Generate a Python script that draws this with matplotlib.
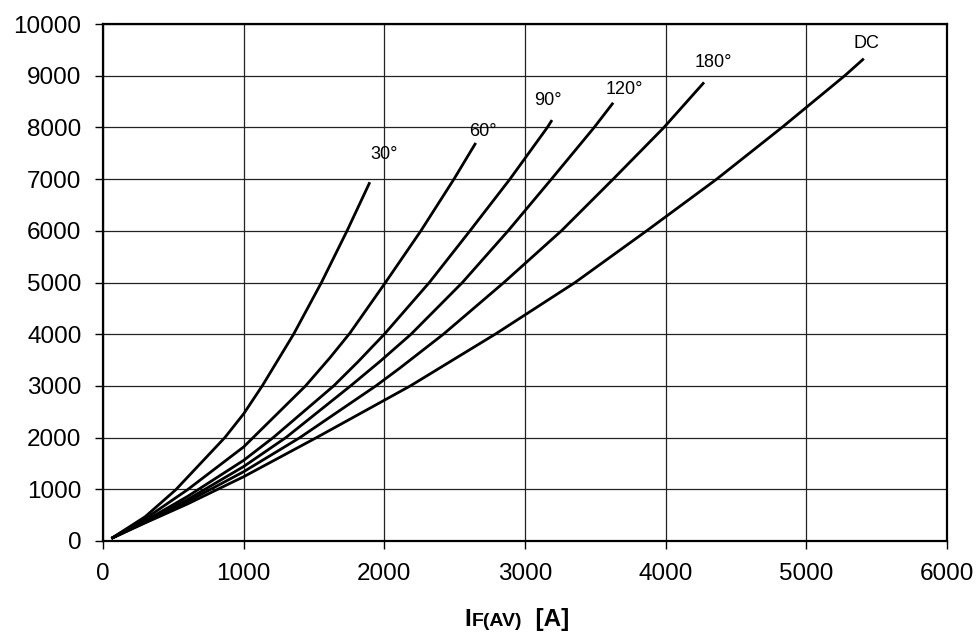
import matplotlib
matplotlib.use('Agg')
import matplotlib.pyplot as plt
from matplotlib.offsetbox import TextArea, HPacker, AnchoredOffsetbox

plt.rcParams['font.family'] = ['Liberation Sans', 'DejaVu Sans']

# curve data (current A, loss W)
i30 = [60, 300, 517, 866, 1000, 1132, 1355, 1553, 1735, 1897]
p30 = [50, 470, 990, 2000, 2460, 3000, 4000, 5000, 6000, 6940]

i60 = [60, 300, 600, 1000, 1440, 1612, 1755, 2008, 2260, 2495, 2650]
p60 = [50, 430, 990, 1820, 3000, 3540, 4020, 5000, 6000, 7000, 7700]

i90 = [60, 300, 600, 1000, 1210, 1640, 1814, 2000, 2320, 2609, 2893, 3159, 3192]
p90 = [50, 390, 860, 1560, 2000, 3000, 3470, 4000, 5000, 6000, 7000, 8000, 8142]

i120 = [60, 300, 600, 1000, 1300, 1760, 1972, 2190, 2555, 2880, 3188, 3492, 3627]
p120 = [50, 375, 800, 1440, 2000, 3000, 3480, 4000, 5000, 6000, 7000, 8000, 8477]

i180 = [60, 300, 600, 1000, 1400, 1940, 2111, 2420, 2850, 3259, 3627, 3988, 4273]
p180 = [50, 360, 760, 1340, 2000, 3000, 3346, 4000, 5000, 6000, 7000, 8000, 8871]

iDC = [60, 300, 600, 1000, 1518, 2185, 2788, 3356, 3865, 4363, 4827, 5273, 5409]
pDC = [50, 350, 715, 1243, 2000, 3000, 4000, 5000, 6000, 7000, 8000, 9000, 9330]

curveLabels = ['30°', '60°', '90°', '120°', '180°', 'DC']
labelX = [2000, 2700, 3160, 3705, 4340, 5428]
labelY = [7480, 7930, 8530, 8730, 9255, 9625]

xTicks = [0, 1000, 2000, 3000, 4000, 5000, 6000]
yTicks = [0, 1000, 2000, 3000, 4000, 5000, 6000, 7000, 8000, 9000, 10000]

fig = plt.figure(figsize=(9.8, 6.39), dpi=100)
ax = fig.add_axes([0.1051, 0.1534, 0.8612, 0.809])

curves = [(i30, p30), (i60, p60), (i90, p90), (i120, p120), (i180, p180), (iDC, pDC)]
for x, y in curves:
    ax.plot(x, y, color='black', lw=2.0, solid_capstyle='butt', zorder=3)

for lab, lx, ly in zip(curveLabels, labelX, labelY):
    ax.text(lx, ly, lab, ha='center', va='center', fontsize=13, zorder=4)

ax.set_xlim(0, 6000)
ax.set_ylim(0, 10000)
ax.set_xticks(xTicks)
ax.set_yticks(yTicks)
ax.set_xticklabels([str(t) for t in xTicks])
ax.set_yticklabels([str(t) for t in yTicks])
ax.grid(True, color='#222222', lw=0.9, zorder=1)
ax.set_axisbelow(True)
ax.tick_params(direction='out', length=5.5, width=1, labelsize=17.5, pad=10, colors='black')
for s in ax.spines.values():
    s.set_linewidth(1.6)
    s.set_color('black')

# x axis label: I + smaller F(AV) on the same baseline + [A]
partI = TextArea('I', textprops=dict(fontsize=17.5, fontweight='bold'))
partF = TextArea('F(AV)', textprops=dict(fontsize=14, fontweight='bold'))
partA = TextArea('  [A]', textprops=dict(fontsize=17.5, fontweight='bold'))
box = HPacker(children=[partI, partF, partA], align='baseline', pad=0, sep=0)
anch = AnchoredOffsetbox(loc='center', child=box, pad=0, frameon=False,
                         bbox_to_anchor=(0.5276, 0.031), bbox_transform=fig.transFigure,
                         borderpad=0)
fig.add_artist(anch)

fig.savefig('out.png', dpi=100)
